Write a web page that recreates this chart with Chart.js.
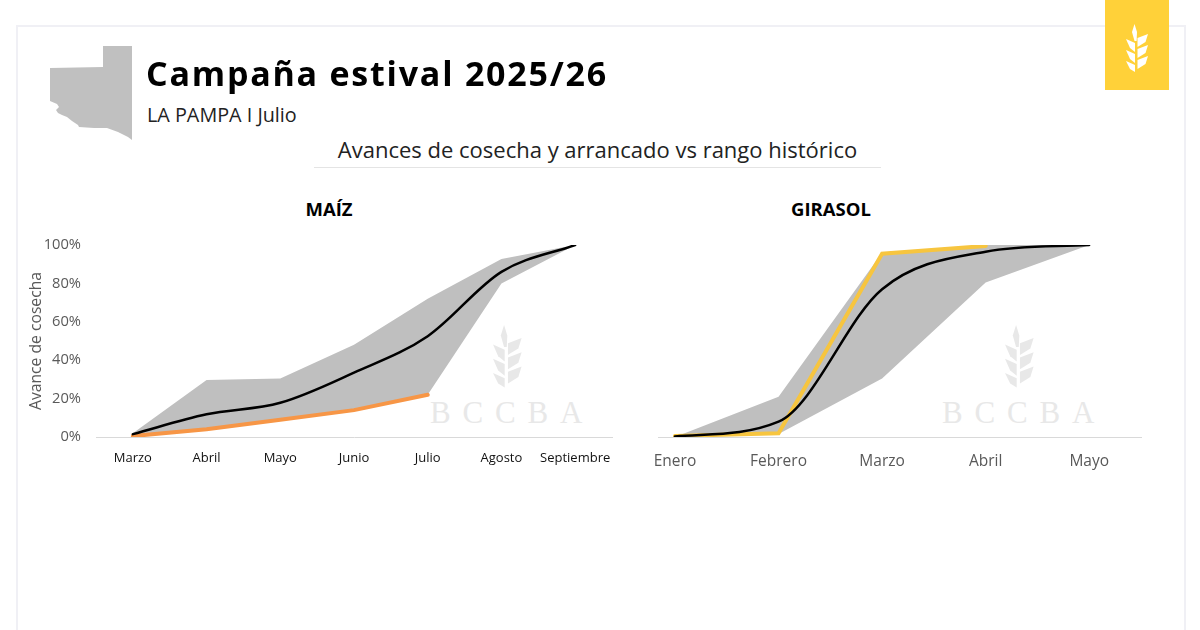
<!DOCTYPE html>
<html>
<head>
<meta charset="utf-8">
<script src="https://cdn.jsdelivr.net/npm/chart.js@4/dist/chart.umd.min.js"></script>
<style>
  html, body { margin: 0; padding: 0; background: #fff; }
  body { width: 1200px; height: 630px; overflow: hidden; position: relative; font-family: "Open Sans", sans-serif; }
  .abs { position: absolute; white-space: nowrap; }
  #frame { left: 16px; top: 25px; width: 1166px; height: 640px; border: 2px solid #f0f0f5; }
  #badge { left: 1105px; top: 0; width: 64px; height: 90px; background: #ffd139; }
  #title { left: 146px; top: 50px; font-size: 34px; line-height: 46px; font-weight: 700; letter-spacing: 1.77px; color: #000; will-change: transform; }
  #sub { left: 147px; top: 101px; font-size: 19.8px; line-height: 28px; color: #222; }
  #head { left: 314px; top: 134px; width: 567px; text-align: center; font-size: 22px; line-height: 30px; color: #222; }
  #rule { left: 314px; top: 167px; width: 567px; height: 1px; background: #e4e4e4; }
  .mark { font-family: "Liberation Serif", serif; font-size: 31px; line-height: 32px; letter-spacing: 11.8px; color: #e8e8e8; top: 397px; }
  .panel { top: 196px; width: 200px; text-align: center; font-size: 18.5px; line-height: 26px; font-weight: 700; color: #000; }
  canvas { position: absolute; }
</style>
</head>
<body>
<div class="abs" id="frame"></div>
<div class="abs" id="badge"></div>

<svg class="abs" style="left:0;top:0" width="1200" height="630">
  <defs>
    <g id="wheat">
      <path d="M-1.5 0 L1 8 L0.6 17 L-1.5 17 L-4 8 Z"/>
      <path d="M1.5 14 L12 10 L9.5 18 L1.5 23 Z"/>
      <path d="M1.5 25 L12 21 L9.5 29 L1.5 34 Z"/>
      <path d="M1.5 36 L12 32 L9.5 40 L1.5 45 Z"/>
      <path d="M-10 15 L-1 19 L-1 28 L-6 24 Z"/>
      <path d="M-10 26 L-1 30 L-1 39 L-6 35 Z"/>
      <path d="M-10 37 L-1 41 L-1 48 L-6 45 Z"/>
    </g>
  </defs>
  <path fill="#c0c0c0" d="M103 46 L132 46 L132 140 L128 137 L118 132 L107 128 L94 128 L79 127 L78 125 L72 121 L67 117 L62 115 L58 113 L56 110 L59 107 L57 104 L50 101 L50 68 L103 67 Z"/>
  <use href="#wheat" fill="#fff" transform="translate(1136 24)"/>
  <use href="#wheat" fill="#e8e8e8" transform="translate(506 325) scale(1.3)"/>
  <use href="#wheat" fill="#e8e8e8" transform="translate(1018 325) scale(1.3)"/>
</svg>

<div class="abs" id="title">Campaña estival 2025/26</div>
<div class="abs" id="sub">LA PAMPA I Julio</div>
<div class="abs" id="head">Avances de cosecha y arrancado vs rango histórico</div>
<div class="abs" id="rule"></div>
<div class="abs mark" style="left:430px">BCCBA</div>
<div class="abs mark" style="left:942px">BCCBA</div>
<div class="abs panel" style="left:229px">MAÍZ</div>
<div class="abs panel" style="left:731px">GIRASOL</div>

<canvas id="maizChart" style="left:20px;top:190px;width:600px;height:290px"></canvas>
<canvas id="girasolChart" style="left:640px;top:190px;width:510px;height:290px"></canvas>

<script>
// Maiz
const maizMeses = ["Marzo", "Abril", "Mayo", "Junio", "Julio", "Agosto", "Septiembre"];
const maizMax = [2, 29.7, 30.5, 48, 72, 92.7, 100];
const maizMin = [0.5, 4, 9, 14, 22, 80, 100];
const maizPromedio = [1.5, 11.8, 17.8, 33.5, 52.5, 86, 100];
const maizActual = [0.5, 4, 9, 14, 22];

// Girasol
const girasolMeses = ["Enero", "Febrero", "Marzo", "Abril", "Mayo"];
const girasolMax = [0, 21, 96, 100, 100];
const girasolMin = [0, 1.5, 30.5, 80.5, 100];
const girasolPromedio = [0.3, 8, 77, 96.5, 100];
const girasolActual = [0.5, 2, 95.5, 99.5];

const yTicks = [0, 20, 40, 60, 80, 100];

function toPoints(values) {
  return values.map((v, i) => ({ x: i, y: v }));
}

function makeChart(id, cfg) {
  return new Chart(document.getElementById(id), {
    type: "line",
    data: {
      datasets: [
        // lower order is painted on top
        { order: 2, data: toPoints(cfg.max), fill: "+1", backgroundColor: "#bfbfbf", borderWidth: 0, pointRadius: 0, tension: 0 },
        { order: 3, data: toPoints(cfg.min), fill: false, borderWidth: 0, pointRadius: 0, tension: 0 },
        { order: 1, data: toPoints(cfg.actual), fill: false, borderColor: cfg.color, borderWidth: 4, pointRadius: 0, tension: 0, borderCapStyle: "round" },
        { order: 0, data: toPoints(cfg.promedio), fill: false, borderColor: "#000", borderWidth: 2.5, pointRadius: 0, cubicInterpolationMode: "monotone", borderCapStyle: "round" }
      ]
    },
    options: {
      responsive: false,
      animation: false,
      layout: { padding: { left: 0, right: cfg.rightPad, top: 55, bottom: 0 } },
      plugins: {
        legend: { display: false },
        tooltip: { enabled: false }
      },
      scales: {
        x: {
          type: "linear",
          min: cfg.xMin,
          max: cfg.xMax,
          grid: { display: false },
          border: { color: "#d9d9d9" },
          afterBuildTicks: (s) => { s.ticks = cfg.labels.map((_, i) => ({ value: i })); },
          afterFit: (s) => { s.height = 43; },
          ticks: {
            autoSkip: false,
            maxRotation: 0,
            padding: cfg.xPad,
            color: cfg.xColor,
            font: { family: "Open Sans", size: cfg.xSize },
            callback: (v) => cfg.labels[v]
          }
        },
        y: {
          min: 0,
          max: 100,
          display: cfg.showY,
          grid: { display: false },
          border: { display: false },
          afterBuildTicks: (s) => { s.ticks = yTicks.map(v => ({ value: v })); },
          afterFit: (s) => { s.width = cfg.yWidth; },
          title: {
            display: true,
            text: "Avance de cosecha",
            color: "#595959",
            font: { family: "Open Sans", size: 15.7 },
            padding: { top: 7.5, bottom: 0 }
          },
          ticks: {
            padding: 7,
            color: "#595959",
            font: { family: "Open Sans", size: 14.7 },
            callback: (v) => v + "%"
          }
        }
      }
    }
  });
}

makeChart("maizChart", {
  labels: maizMeses, max: maizMax, min: maizMin, promedio: maizPromedio, actual: maizActual,
  color: "#f79646", xMin: -0.5, xMax: 6.5, showY: true, yWidth: 76, rightPad: 8, xPad: 5, xSize: 13, xColor: "#111"
});

makeChart("girasolChart", {
  labels: girasolMeses, max: girasolMax, min: girasolMin, promedio: girasolPromedio, actual: girasolActual,
  color: "#f7c53f", xMin: -0.164, xMax: 4.5, showY: false, yWidth: 18, rightPad: 9, xPad: 7, xSize: 15.5, xColor: "#595959"
});
</script>
</body>
</html>
